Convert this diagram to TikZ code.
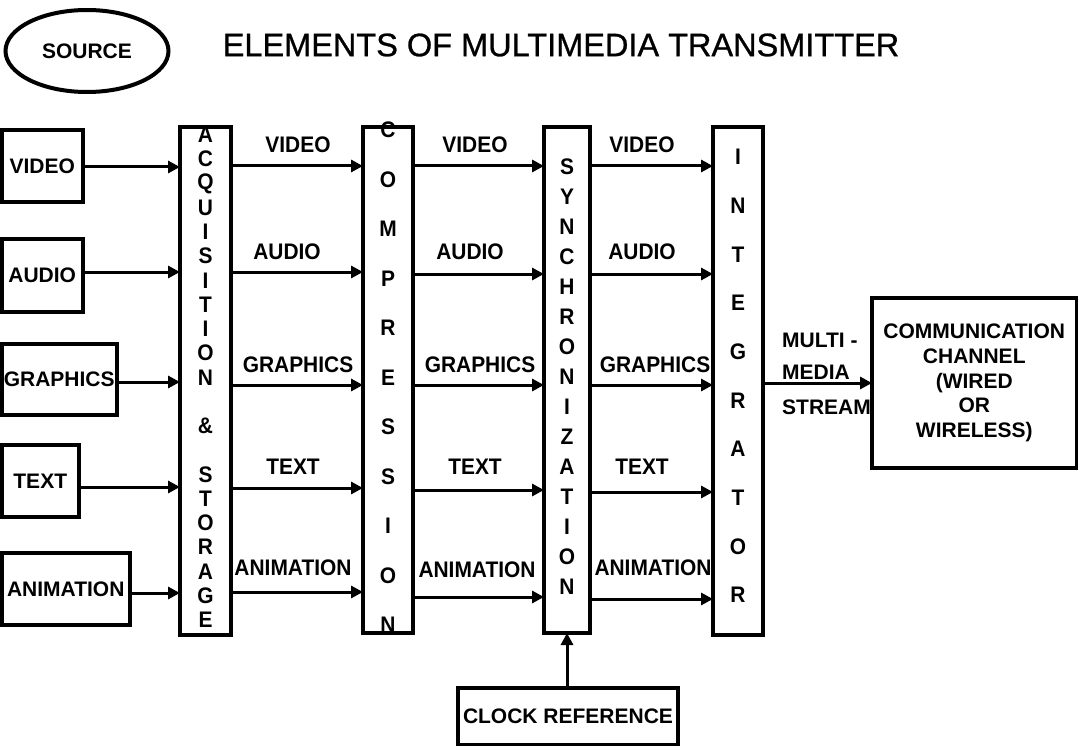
\documentclass[tikz,border=0pt]{standalone}
\usepackage{fontspec}
\setmainfont{Liberation Sans}
\newfontfamily\titlefont{Liberation Sans}[FakeBold=0.8]
\usetikzlibrary{arrows.meta,shapes.geometric}
\begin{document}
\begin{tikzpicture}[x=1pt,y=-1pt,
  box/.style={draw,line width=4pt,inner sep=0pt,outer sep=0pt,font=\bfseries\fontsize{21}{24.75}\selectfont},
  arr/.style={line width=3pt,-{Triangle[length=12pt,width=12pt]}},
  lbl/.style={font=\bfseries\fontsize{22.5}{26}\selectfont,inner sep=0pt,xscale=0.93},
  txt/.style={font=\bfseries\fontsize{21}{24}\selectfont,inner sep=0pt}]
\useasboundingbox (0,0) rectangle (1078,746);

% title and source
\node[box,ellipse,minimum width=163pt,minimum height=82pt] (src) at (87,51) {SOURCE};
\node[font=\titlefont\fontsize{32.5}{36}\selectfont,inner sep=0pt] (title) at (561,45) {ELEMENTS OF MULTIMEDIA TRANSMITTER};

% source boxes
\node[box,minimum width=81.5pt,minimum height=72pt] (video) at (42.25,166) {VIDEO};
\node[box,minimum width=81.5pt,minimum height=73pt] (audio) at (42.25,275.5) {AUDIO};
\node[box,minimum width=115.5pt,minimum height=71pt] (graphics) at (59.25,379.5) {GRAPHICS};
\node[box,minimum width=77.5pt,minimum height=72pt] (text) at (40.25,481) {TEXT};
\node[box,minimum width=128.5pt,minimum height=72pt] (anim) at (65.75,589) {ANIMATION};

% vertical blocks
\node[box,minimum width=51pt,minimum height=508pt] (acq) at (205.5,381) {};
\node[box,minimum width=50pt,minimum height=506pt] (comp) at (388,380) {};
\node[box,minimum width=46pt,minimum height=506pt] (sync) at (567,380) {};
\node[box,minimum width=50pt,minimum height=508pt] (integ) at (738,381) {};
\node[box,minimum width=204.5pt,minimum height=170pt,align=center] (comm) at (974.25,383)
  {COMMUNICATION\\CHANNEL\\(WIRED\\OR\\WIRELESS)};
\node[box,minimum width=220pt,minimum height=56.5pt] (clock) at (568,716.25) {CLOCK REFERENCE};

% letters in the vertical blocks
\foreach \l [count=\i from 0] in {A,C,Q,U,I,S,I,T,I,O,N,{},\&,{},S,T,O,R,A,G,E}
  \node[lbl] at (205.5,{135+\i*24.25}) {\l};
\foreach \l [count=\i from 0] in {C,O,M,P,R,E,S,S,I,O,N}
  \node[lbl] at (388,{130+\i*49.5}) {\l};
\foreach \l [count=\i from 0] in {S,Y,N,C,H,R,O,N,I,Z,A,T,I,O,N}
  \node[lbl] at (567,{167+\i*30}) {\l};
\foreach \l [count=\i from 0] in {I,N,T,E,G,R,A,T,O,R}
  \node[lbl] at (738,{157+\i*48.67}) {\l};

% connectors
\foreach \n/\y in {video/167,audio/272,graphics/382,text/487,anim/593}
  \draw[arr] (\n.east |- 0,\y) -- (acq.west |- 0,\y);
\foreach \y in {166,272,385,488,592}
  \draw[arr] (acq.east |- 0,\y) -- (comp.west |- 0,\y);
\foreach \y in {166,274,385,490,597}
  \draw[arr] (comp.east |- 0,\y) -- (sync.west |- 0,\y);
\foreach \y in {166,274,385,492,599}
  \draw[arr] (sync.east |- 0,\y) -- (integ.west |- 0,\y);
\draw[arr] (integ.east |- 0,383) -- (comm.west |- 0,383);
\draw[arr] (clock.north -| sync.south) -- (sync.south);

% connector labels
\foreach \t/\x/\y in {VIDEO/298/145,AUDIO/287/252,GRAPHICS/298/365,TEXT/293/467,ANIMATION/293/568,
  VIDEO/475/145,AUDIO/470/252,GRAPHICS/480/365,TEXT/475/467,ANIMATION/477/570,
  VIDEO/642/145,AUDIO/642/252,GRAPHICS/655/365,TEXT/642/467,ANIMATION/653/568}
  \node[lbl] at (\x,\y) {\t};
\node[txt,anchor=west] (m1) at (782,340) {MULTI -};
\node[txt,anchor=west] (m2) at (782,372) {MEDIA};
\node[txt,anchor=west] (m3) at (782,407) {STREAM};
\end{tikzpicture}
\end{document}
